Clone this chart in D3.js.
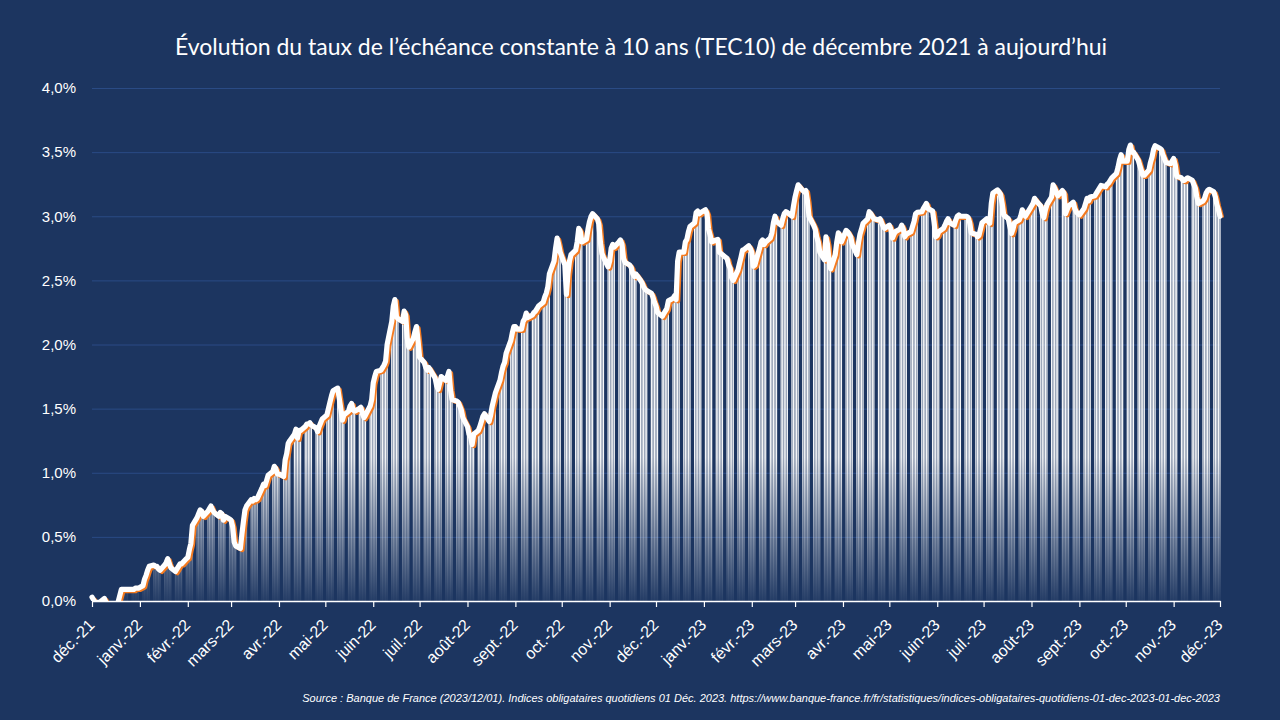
<!DOCTYPE html>
<html lang="fr">
<head>
<meta charset="utf-8">
<title>TEC10 décembre 2021 - décembre 2023</title>
<script src="https://cdn.jsdelivr.net/npm/d3@7"></script>
<style>
  html, body { margin: 0; padding: 0; background: #1c3560; }
  svg { display: block; }
  .title { font-family: Lato, "Noto Sans", sans-serif; fill: #fff; }
  .axis text { font-family: "Liberation Sans", Arial, sans-serif; fill: #fff; }
  .source { font-family: "Liberation Sans", Arial, sans-serif; font-style: italic; fill: #fff; }
</style>
</head>
<body>
<svg id="chart" width="1280" height="720"></svg>
<script>
// TEC10 quotidien (%), un tableau par mois, un chiffre par jour ouvré
const dec21 = [0.03, 0.01, -0.01, -0.01, 0.00, 0.01, 0.02, -0.01, -0.04, -0.05, -0.04, -0.03, -0.05, 0.09, 0.09, 0.09, 0.09, 0.09, 0.09, 0.09, 0.10, 0.10, 0.10];
const jan22 = [0.12, 0.17, 0.20, 0.24, 0.27, 0.28, 0.27, 0.27, 0.25, 0.24, 0.28, 0.30, 0.33, 0.29, 0.26, 0.23, 0.25, 0.27, 0.29, 0.29, 0.33];
const feb22 = [0.34, 0.40, 0.45, 0.59, 0.65, 0.68, 0.71, 0.70, 0.66, 0.70, 0.72, 0.74, 0.71, 0.69, 0.66, 0.69, 0.68, 0.63, 0.66, 0.64];
const mar22 = [0.63, 0.58, 0.46, 0.43, 0.41, 0.52, 0.62, 0.71, 0.74, 0.79, 0.78, 0.80, 0.79, 0.80, 0.88, 0.91, 0.90, 0.94, 0.98, 1.01, 1.05, 1.03, 0.99];
const apr22 = [0.99, 0.97, 1.10, 1.15, 1.23, 1.25, 1.30, 1.34, 1.27, 1.33, 1.33, 1.36, 1.38, 1.38, 1.39, 1.37, 1.35, 1.32, 1.36, 1.39, 1.42];
const may22 = [1.45, 1.50, 1.55, 1.60, 1.64, 1.66, 1.58, 1.50, 1.41, 1.45, 1.48, 1.52, 1.54, 1.49, 1.48, 1.50, 1.51, 1.46, 1.43, 1.45, 1.52, 1.57];
const jun22 = [1.70, 1.75, 1.79, 1.80, 1.82, 1.84, 1.87, 2.00, 2.18, 2.30, 2.35, 2.22, 2.20, 2.18, 2.26, 2.23, 2.05, 1.98, 2.05, 2.10, 2.14, 2.03];
const jul22 = [1.90, 1.86, 1.82, 1.80, 1.82, 1.80, 1.74, 1.68, 1.65, 1.70, 1.75, 1.72, 1.75, 1.79, 1.65, 1.57, 1.56, 1.55, 1.52, 1.49, 1.43];
const aug22 = [1.36, 1.30, 1.28, 1.22, 1.30, 1.33, 1.36, 1.40, 1.44, 1.46, 1.40, 1.45, 1.52, 1.57, 1.62, 1.72, 1.78, 1.83, 1.86, 1.93, 2.03, 2.09, 2.14];
const sep22 = [2.14, 2.12, 2.12, 2.18, 2.20, 2.245, 2.21, 2.23, 2.25, 2.26, 2.28, 2.30, 2.33, 2.37, 2.40, 2.45, 2.55, 2.65, 2.75, 2.83, 2.78, 2.72];
const oct22 = [2.62, 2.39, 2.55, 2.65, 2.70, 2.735, 2.80, 2.905, 2.88, 2.80, 2.82, 2.90, 2.96, 3.00, 3.02, 2.98, 2.94, 2.80, 2.71, 2.68, 2.605];
const nov22 = [2.65, 2.75, 2.78, 2.76, 2.80, 2.815, 2.78, 2.67, 2.64, 2.62, 2.60, 2.55, 2.53, 2.55, 2.50, 2.48, 2.45, 2.43, 2.42, 2.40, 2.37, 2.33];
const dec22 = [2.30, 2.25, 2.22, 2.24, 2.26, 2.28, 2.34, 2.36, 2.38, 2.35, 2.65, 2.72, 2.72, 2.80, 2.82, 2.88, 2.92, 2.95, 3.03, 3.04, 3.02, 3.03];
const jan23 = [3.05, 3.02, 2.90, 2.855, 2.80, 2.815, 2.82, 2.72, 2.71, 2.70, 2.67, 2.62, 2.595, 2.52, 2.50, 2.58, 2.63, 2.68, 2.735, 2.74, 2.77, 2.75];
const feb23 = [2.72, 2.61, 2.62, 2.75, 2.80, 2.815, 2.78, 2.80, 2.83, 2.87, 2.95, 3.00, 2.96, 2.93, 2.98, 3.02, 3.035, 3.03, 3.00, 3.08];
const mar23 = [3.15, 3.20, 3.245, 3.20, 3.19, 3.20, 3.12, 3.00, 2.93, 2.90, 2.84, 2.80, 2.72, 2.66, 2.84, 2.78, 2.65, 2.59, 2.70, 2.80, 2.87, 2.85, 2.80];
const apr23 = [2.89, 2.88, 2.86, 2.84, 2.78, 2.70, 2.79, 2.86, 2.90, 2.945, 2.98, 3.035, 3.02, 3.00, 2.98, 2.97, 2.98, 2.95, 2.92, 2.905];
const may23 = [2.93, 2.90, 2.83, 2.86, 2.88, 2.90, 2.93, 2.90, 2.84, 2.86, 2.88, 2.92, 2.96, 3.02, 3.03, 3.035, 3.06, 3.08, 3.10, 3.06, 3.04, 2.95, 2.84];
const jun23 = [2.85, 2.88, 2.905, 2.93, 2.96, 2.98, 2.95, 2.93, 2.97, 3.00, 3.01, 3.00, 3.00, 3.00, 2.99, 2.95, 2.87, 2.86, 2.84, 2.85, 2.90, 2.95];
const jul23 = [2.98, 2.96, 2.945, 3.10, 3.18, 3.205, 3.19, 3.17, 3.10, 3.01, 2.98, 2.92, 2.865, 2.90, 2.95, 2.97, 3.00, 3.05, 3.02, 3.00, 3.06];
const aug23 = [3.08, 3.10, 3.14, 3.12, 3.08, 3.02, 2.99, 3.05, 3.09, 3.15, 3.245, 3.22, 3.19, 3.16, 3.20, 3.18, 3.02, 3.05, 3.08, 3.11, 3.06, 3.035, 3.02];
const sep23 = [3.01, 3.06, 3.10, 3.14, 3.12, 3.15, 3.16, 3.18, 3.20, 3.22, 3.24, 3.23, 3.25, 3.26, 3.28, 3.30, 3.335, 3.38, 3.44, 3.48, 3.43];
const oct23 = [3.43, 3.52, 3.555, 3.50, 3.50, 3.44, 3.40, 3.36, 3.32, 3.32, 3.36, 3.42, 3.46, 3.52, 3.55, 3.53, 3.52, 3.48, 3.45, 3.42, 3.41, 3.43];
const nov23 = [3.45, 3.40, 3.31, 3.30, 3.28, 3.28, 3.29, 3.30, 3.28, 3.25, 3.22, 3.15, 3.10, 3.12, 3.14, 3.18, 3.20, 3.21, 3.19, 3.15, 3.09, 3.05];
const dec23 = [3.00];

// [année, mois (0-11), valeurs]
const months = [
    [2021, 11, dec21],
    [2022, 0, jan22], [2022, 1, feb22], [2022, 2, mar22], [2022, 3, apr22],
    [2022, 4, may22], [2022, 5, jun22], [2022, 6, jul22], [2022, 7, aug22],
    [2022, 8, sep22], [2022, 9, oct22], [2022, 10, nov22], [2022, 11, dec22],
    [2023, 0, jan23], [2023, 1, feb23], [2023, 2, mar23], [2023, 3, apr23],
    [2023, 4, may23], [2023, 5, jun23], [2023, 6, jul23], [2023, 7, aug23],
    [2023, 8, sep23], [2023, 9, oct23], [2023, 10, nov23], [2023, 11, dec23]
];

const monthLabels = ["janv.", "févr.", "mars", "avr.", "mai", "juin", "juil.", "août", "sept.", "oct.", "nov.", "déc."];
const yTicks = [0, 0.5, 1, 1.5, 2, 2.5, 3, 3.5, 4];

const titleText = "Évolution du taux de l’échéance constante à 10 ans (TEC10) de décembre 2021 à aujourd’hui";
const sourceText = "Source :  Banque de France (2023/12/01). Indices obligataires quotidiens 01 Déc. 2023. https://www.banque-france.fr/fr/statistiques/indices-obligataires-quotidiens-01-dec-2023-01-dec-2023";

// one point per business day
var data = [];
months.forEach(function(m) {
    var days = d3.timeDay.range(new Date(m[0], m[1], 1), new Date(m[0], m[1] + 1, 1))
        .filter((d) => d.getDay() !== 0 && d.getDay() !== 6);
    m[2].forEach((v, i) => data.push({ date: days[i], value: v }));
});

var width = 1280,
    height = 720,
    margin = { left: 92, right: 60, top: 88, bottom: 119 };

var chartWidth = width - margin.left - margin.right;
var chartHeight = height - margin.top - margin.bottom;

var svg = d3.select('#chart');

svg.append('rect')
    .attr('width', width)
    .attr('height', height)
    .attr('fill', '#1c3560');

// gradient for the bars
var defs = svg.append('defs');
var grad = defs.append('linearGradient')
    .attr('id', 'barGrad')
    .attr('gradientUnits', 'userSpaceOnUse')
    .attr('x1', 0).attr('x2', 0)
    .attr('y1', 0).attr('y2', chartHeight);
grad.append('stop').attr('offset', '0').attr('stop-color', '#fff').attr('stop-opacity', 1);
grad.append('stop').attr('offset', '0.72').attr('stop-color', '#fff').attr('stop-opacity', 0.95);
grad.append('stop').attr('offset', '1').attr('stop-color', '#fff').attr('stop-opacity', 0.05);

defs.append('clipPath').attr('id', 'plotClip')
    .append('rect')
    .attr('x', -10).attr('y', -margin.top)
    .attr('width', chartWidth + 20).attr('height', chartHeight + margin.top);

var xScale = d3.scaleTime()
    .domain([new Date(2021, 11, 1), new Date(2023, 11, 1)])
    .range([0, chartWidth]);

var yScale = d3.scaleLinear()
    .domain([0, 4])
    .range([chartHeight, 0]);

var fr = d3.formatLocale({ decimal: ',', thousands: ' ', grouping: [3], currency: ['', ' €'] });
var fmt = fr.format('.1f');

// title
svg.append('text')
    .attr('class', 'title')
    .attr('x', 641)
    .attr('y', 55)
    .attr('text-anchor', 'middle')
    .style('font-size', '23px')
    .text(titleText);

var g = svg.append('g')
    .attr('transform', 'translate(' + margin.left + ',' + margin.top + ')');

// gridlines
g.append('g')
    .selectAll('line')
    .data(yTicks.filter((t) => t > 0))
    .enter().append('line')
    .attr('x1', 0)
    .attr('x2', chartWidth)
    .attr('y1', (d) => yScale(d) + 0.5)
    .attr('y2', (d) => yScale(d) + 0.5)
    .attr('stroke', '#2a4b85')
    .attr('stroke-width', 1);

var plot = g.append('g').attr('clip-path', 'url(#plotClip)');

// daily bars
var barW = 1.25;
plot.append('g')
    .selectAll('rect')
    .data(data.filter((d) => d.value > 0))
    .enter().append('rect')
    .attr('x', (d) => xScale(d.date) - barW / 2)
    .attr('y', (d) => yScale(d.value))
    .attr('width', barW)
    .attr('height', (d) => chartHeight - yScale(d.value))
    .attr('fill', 'url(#barGrad)');

var line = d3.line()
    .x((d) => xScale(d.date))
    .y((d) => yScale(d.value));

// orange offset line, then white line on top
plot.append('path')
    .datum(data)
    .attr('d', line)
    .attr('transform', 'translate(2,1.6)')
    .attr('fill', 'none')
    .attr('stroke', '#f47a1f')
    .attr('stroke-width', 4.4)
    .attr('stroke-linejoin', 'round');

plot.append('path')
    .datum(data)
    .attr('d', line)
    .attr('fill', 'none')
    .attr('stroke', '#ffffff')
    .attr('stroke-width', 5.2)
    .attr('stroke-linejoin', 'round')
    .attr('stroke-linecap', 'round');

// y axis
var yAxis = d3.axisLeft(yScale)
    .tickValues(yTicks)
    .tickSize(0)
    .tickPadding(16)
    .tickFormat((d) => fmt(d) + '%');

g.append('g')
    .attr('class', 'axis y')
    .call(yAxis)
    .call((s) => s.select('.domain').remove())
    .selectAll('text')
    .style('font-size', '15px');

// x axis
var xAxis = d3.axisBottom(xScale)
    .tickValues(d3.timeMonth.range(new Date(2021, 11, 1), new Date(2023, 11, 2)))
    .tickSize(6)
    .tickSizeOuter(0)
    .tickFormat((d) => monthLabels[d.getMonth()] + '-' + String(d.getFullYear()).slice(2));

var gx = g.append('g')
    .attr('class', 'axis x')
    .attr('transform', 'translate(0,' + chartHeight + ')')
    .call(xAxis);

gx.select('.domain').attr('stroke', '#fff').attr('stroke-width', 1.5);
gx.selectAll('.tick line').attr('stroke', '#fff').attr('stroke-width', 1.2);
gx.selectAll('.tick text')
    .attr('x', 0)
    .attr('y', 0)
    .attr('dy', 0)
    .attr('text-anchor', 'end')
    .attr('transform', 'translate(3,25) rotate(-45)')
    .style('font-size', '16px');

// source
svg.append('text')
    .attr('class', 'source')
    .attr('x', margin.left + chartWidth)
    .attr('y', 702)
    .attr('text-anchor', 'end')
    .style('font-size', '11px')
    .text(sourceText);
</script>
</body>
</html>
